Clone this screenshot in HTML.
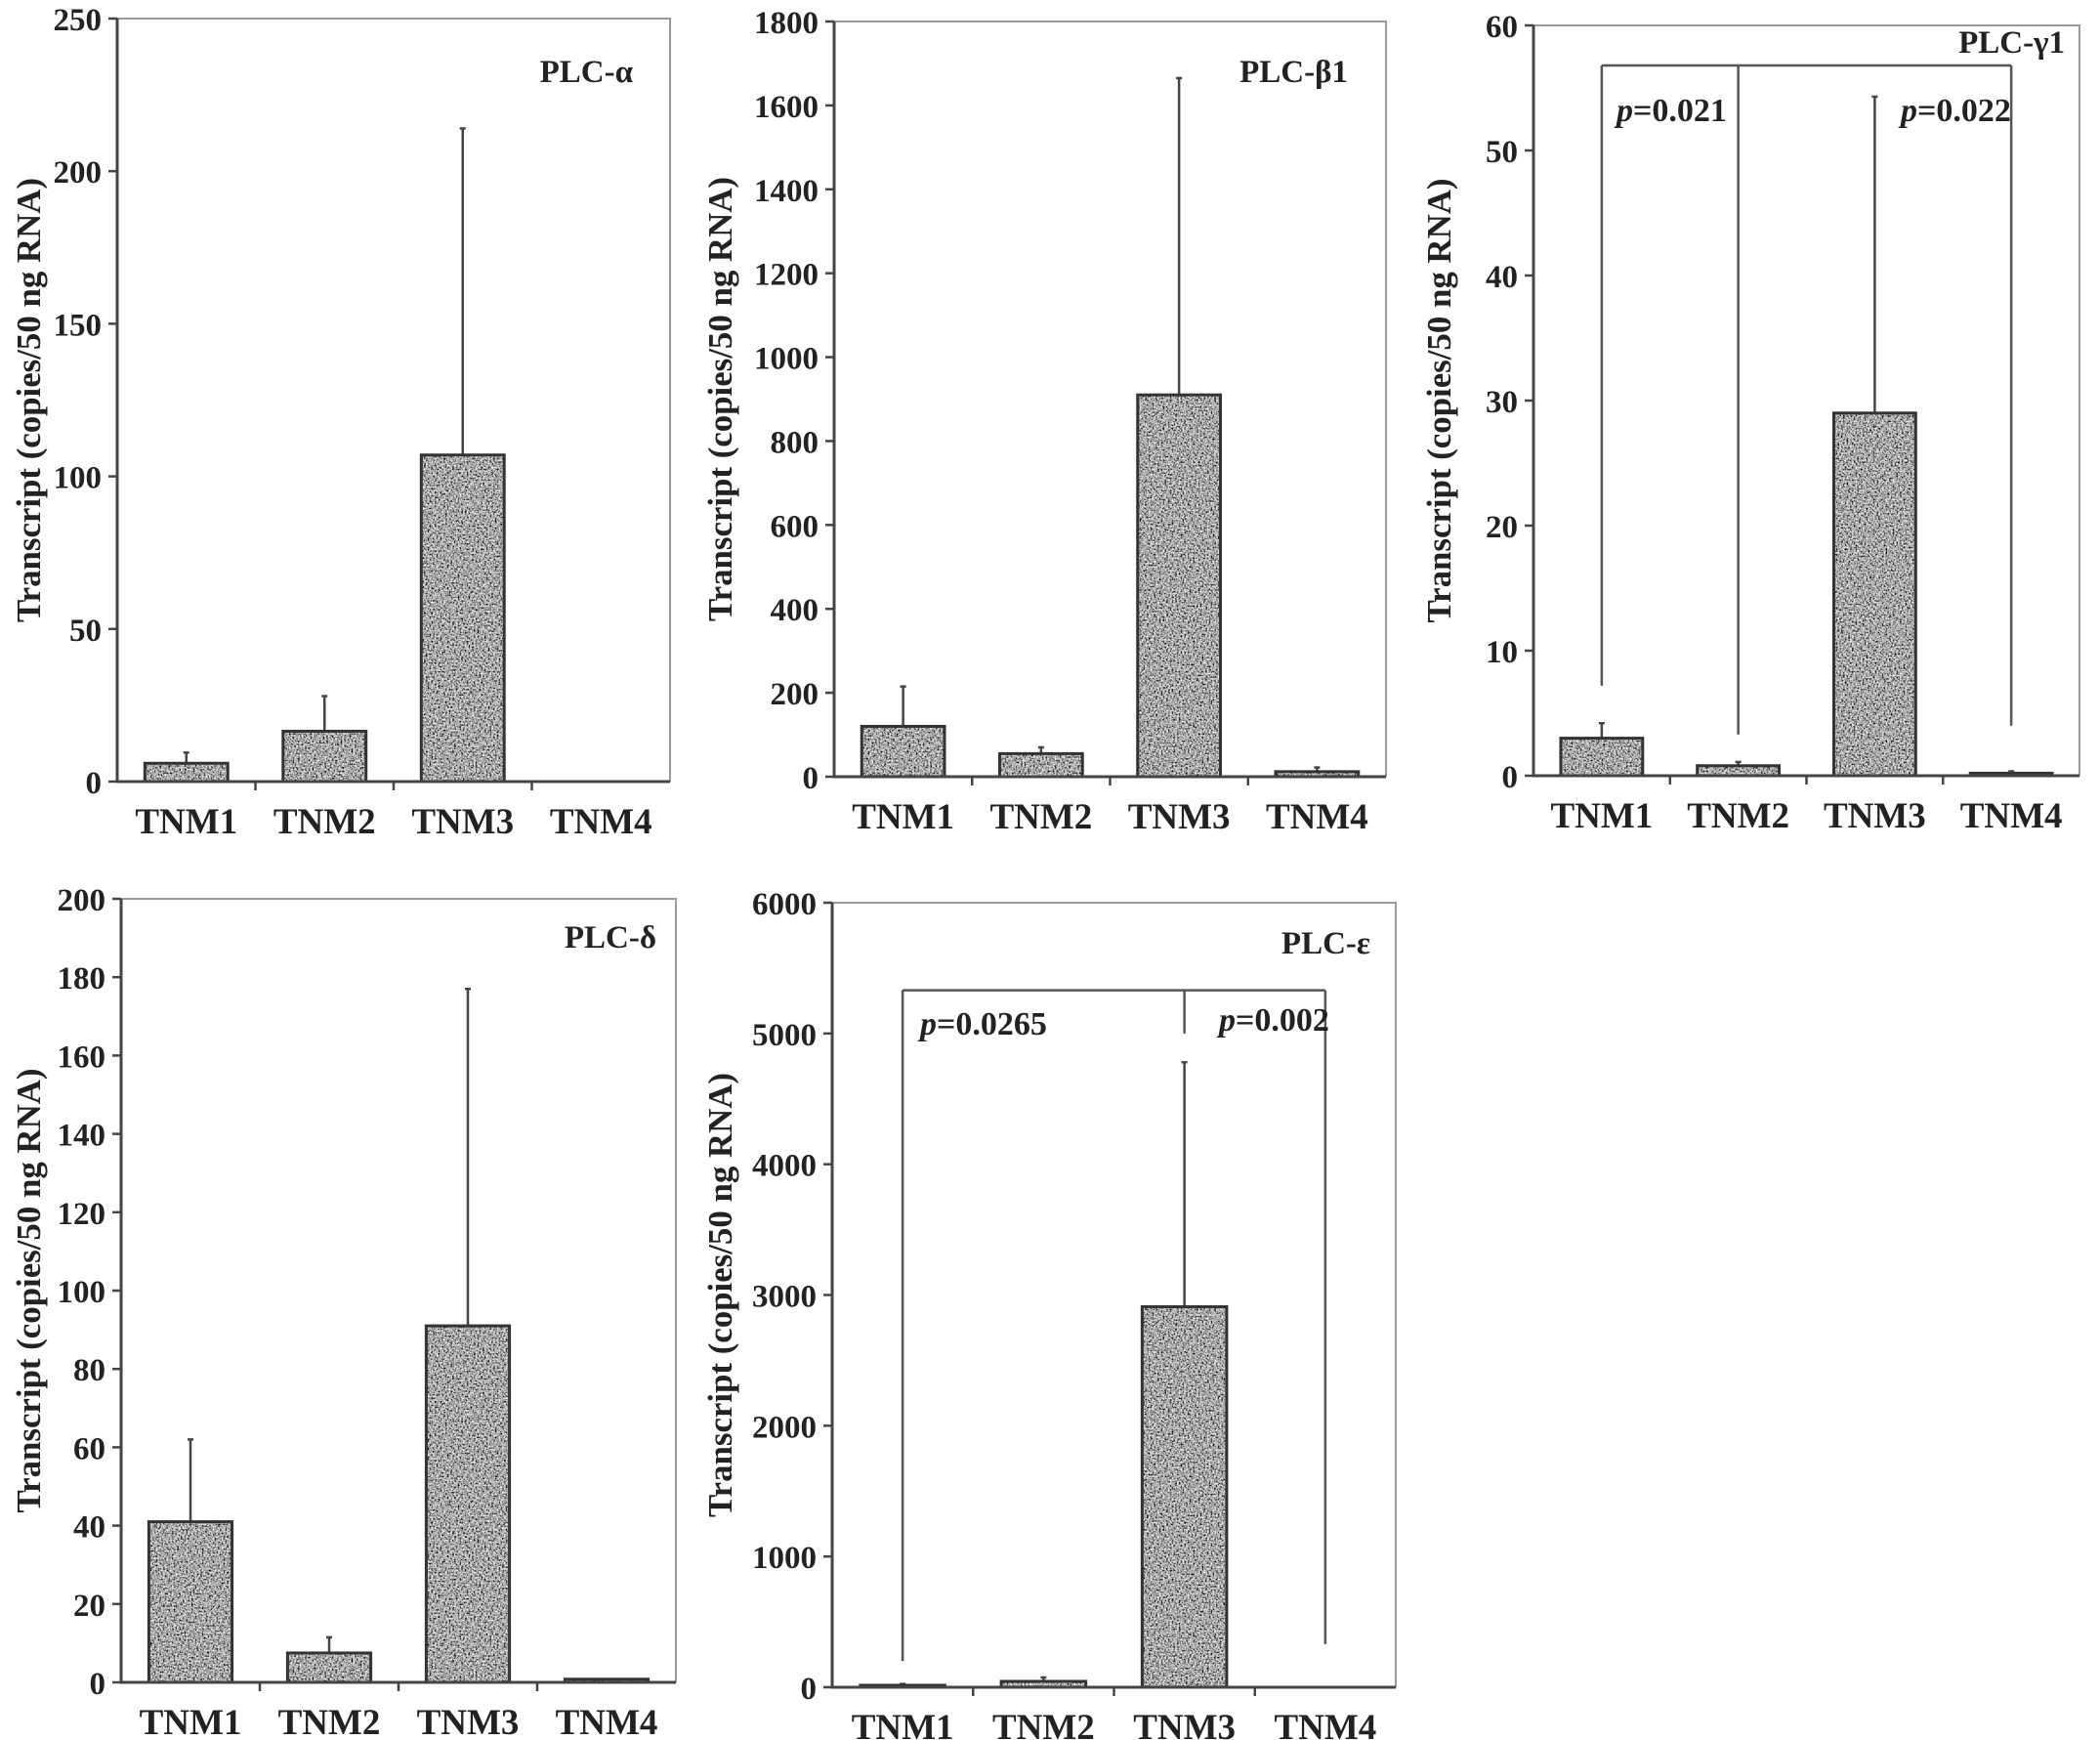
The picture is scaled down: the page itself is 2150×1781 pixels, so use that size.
<!DOCTYPE html>
<html><head><meta charset="utf-8"><style>
html,body{margin:0;padding:0;background:#fff;}
svg{display:block;}
text{font-family:"Liberation Serif",serif;font-weight:bold;fill:#222;}
</style></head><body>
<svg id="fig" width="2150" height="1781" viewBox="0 0 2150 1781" xmlns="http://www.w3.org/2000/svg">
<defs>
<filter id="speckle" x="0" y="0" width="100%" height="100%">
<feTurbulence type="fractalNoise" baseFrequency="0.55" numOctaves="2" seed="3" result="n"/>
<feColorMatrix in="n" type="matrix" values="1.8 0 0 0 -0.5  1.8 0 0 0 -0.5  1.8 0 0 0 -0.5  0 0 0 0 1" result="g"/>
<feComposite in="g" in2="SourceGraphic" operator="in"/>
</filter>
</defs>
</svg>
<script>
const categories = ["TNM1","TNM2","TNM3","TNM4"];
// PLC-alpha
const alphaValues = [6, 16.5, 107, 0];
const alphaErrors = [9.5, 28, 214, 0];
const alphaTicks = [0,50,100,150,200,250];
// PLC-beta1
const betaValues = [120, 55, 910, 12];
const betaErrors = [215, 70, 1665, 22];
const betaTicks = [0,200,400,600,800,1000,1200,1400,1600,1800];
// PLC-gamma1
const gammaValues = [3, 0.8, 29, 0.2];
const gammaErrors = [4.2, 1.1, 54.3, 0.35];
const gammaTicks = [0,10,20,30,40,50,60];
const gammaBracketTop = 56.8;
const gammaBracketLegs = [7.2, 3.3, 4];
// PLC-delta
const deltaValues = [41, 7.5, 91, 0.8];
const deltaErrors = [62, 11.5, 177, 0];
const deltaTicks = [0,20,40,60,80,100,120,140,160,180,200];
// PLC-epsilon
const epsValues = [10, 45, 2910, 0];
const epsErrors = [25, 75, 4780, 0];
const epsTicks = [0,1000,2000,3000,4000,5000,6000];
const epsBracketTop = 5330;
const epsBracketLegs = [200, 5000, 330];

const NS = "http://www.w3.org/2000/svg";
const svg = document.getElementById("fig");
function mk(tag, attrs, parent, txt){
  const e = document.createElementNS(NS, tag);
  for (const k in attrs) e.setAttribute(k, attrs[k]);
  if (txt !== undefined) e.textContent = txt;
  (parent||svg).appendChild(e);
  return e;
}

function panel(cfg){
  const g = mk("g", {});
  
  
  const {x0,x1,yTop,yZero,max} = cfg;
  const y = v => yZero - (v/max)*(yZero - yTop);
  const cw = (x1 - x0)/categories.length;
  const cx = i => x0 + cw*(i+0.5);
  const fr = mk("path", {d:`M${x0} ${yTop}H${x1}V${yZero}`, fill:"none", stroke:"#9a9a9a", "stroke-width":2}, g);
  
  
  categories.forEach((c,i)=>{
    const v = cfg.values[i], e = cfg.errors[i];
    const bw = cw*0.6;
    if (e > v) {
      const el = mk("line", {x1:cx(i), x2:cx(i), y1:y(v), y2:y(e), stroke:"#444", "stroke-width":2.5}, g);
      
      
      const cap = mk("line", {x1:cx(i)-3, x2:cx(i)+3, y1:y(e), y2:y(e), stroke:"#444", "stroke-width":2.5}, g);
      
      
    }
    if (v > 0) {
      const h = Math.max(y(0)-y(v), 2);
      const b = mk("rect", {x:cx(i)-bw/2, y:y(0)-h, width:bw, height:h, fill:"#000", filter:"url(#speckle)"}, g);
      
      
      const bo = mk("rect", {x:cx(i)-bw/2, y:y(0)-h, width:bw, height:h, fill:"none", stroke:"#333", "stroke-width":3}, g);
      
      
    }
    const t = mk("text", {x:cx(i), y:yZero+53, "text-anchor":"middle", "font-size":37}, g, c);
    
    
    if (i>0){
      const tk = mk("line", {x1:x0+cw*i, x2:x0+cw*i, y1:yZero, y2:yZero+9, stroke:"#444", "stroke-width":2.5}, g);
      
      
    }
  });
  const ax = mk("path", {d:`M${x0} ${yTop}V${yZero}H${x1}`, fill:"none", stroke:"#444", "stroke-width":3}, g);
  
  
  cfg.ticks.forEach(t=>{
    const l = mk("line", {x1:x0-9, x2:x0, y1:y(t), y2:y(t), stroke:"#444", "stroke-width":2.5}, g);
    
    
    const tx = mk("text", {x:x0-16, y:y(t)+12, "text-anchor":"end", "font-size":33}, g, String(t));
    
    
  });
  const ym = (yTop+yZero)/2;
  const yl = mk("text", {x:0, y:0, "text-anchor":"middle", "font-size":35, textLength:455, lengthAdjust:"spacingAndGlyphs", transform:`translate(${cfg.labelX+12},${ym}) rotate(-90)`}, g, "Transcript (copies/50 ng RNA)");
  
  
  const tt = mk("text", {x:cfg.titleX, y:cfg.titleY, "text-anchor":"end", "font-size":33}, g, cfg.title);
  
  
  if (cfg.bracket){
    const bt = y(cfg.bracket.top);
    const idx = cfg.bracket.idx;
    const br = mk("line", {x1:cx(idx[0]), x2:cx(idx[2]), y1:bt, y2:bt, stroke:"#555", "stroke-width":2.5}, g);
    
    
    idx.forEach((k,j)=>{
      const lg = mk("line", {x1:cx(k), x2:cx(k), y1:bt, y2:y(cfg.bracket.legs[j]), stroke:"#555", "stroke-width":2.5}, g);
      
      
    });
    cfg.bracket.labels.forEach(L=>{
      const p = mk("text", {x:L.x, y:L.y, "font-size":34}, g);
      
      
      mk("tspan", {"font-style":"italic"}, p, "p");
      mk("tspan", {}, p, L.t);
    });
  }
}

panel({name:"plc-alpha", x0:120, x1:686, yTop:19, yZero:800, max:250, ticks:alphaTicks, values:alphaValues, errors:alphaErrors, labelX:29, title:"PLC-α", titleX:648, titleY:84});
panel({name:"plc-beta1", x0:854, x1:1419, yTop:22, yZero:795, max:1800, ticks:betaTicks, values:betaValues, errors:betaErrors, labelX:737, title:"PLC-β1", titleX:1380, titleY:84});
panel({name:"plc-gamma1", x0:1570, x1:2129, yTop:26, yZero:794, max:60, ticks:gammaTicks, values:gammaValues, errors:gammaErrors, labelX:1473, title:"PLC-γ1", titleX:2114, titleY:54,
  bracket:{top:gammaBracketTop, legs:gammaBracketLegs, idx:[0,1,3], labels:[{x:1655,y:124,t:"=0.021"},{x:1946,y:124,t:"=0.022"}]}});
panel({name:"plc-delta", x0:124, x1:692, yTop:920, yZero:1722, max:200, ticks:deltaTicks, values:deltaValues, errors:deltaErrors, labelX:29, title:"PLC-δ", titleX:672, titleY:970});
panel({name:"plc-epsilon", x0:852, x1:1429, yTop:924, yZero:1727, max:6000, ticks:epsTicks, values:epsValues, errors:epsErrors, labelX:737, title:"PLC-ε", titleX:1403, titleY:976,
  bracket:{top:epsBracketTop, legs:epsBracketLegs, idx:[0,2,3], labels:[{x:942,y:1059,t:"=0.0265"},{x:1248,y:1055,t:"=0.002"}]}});
</script>
</body></html>
